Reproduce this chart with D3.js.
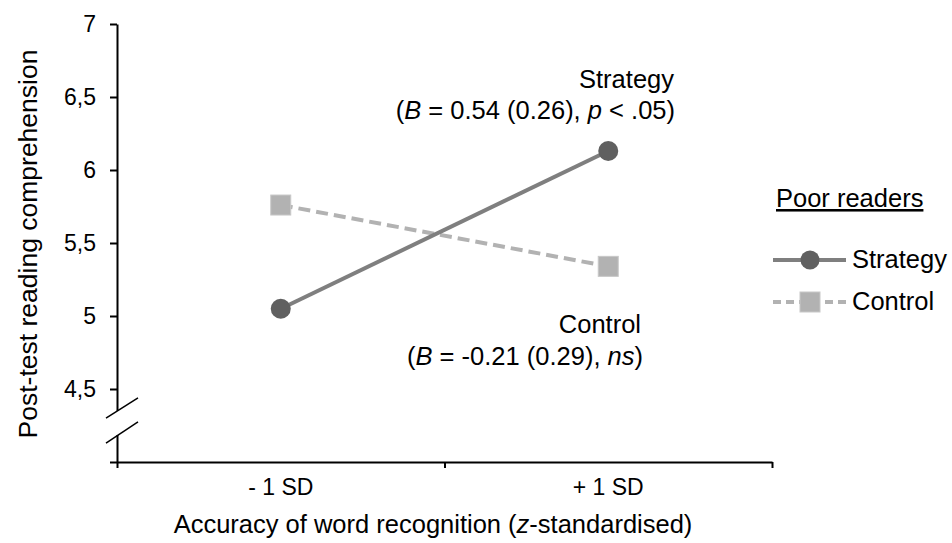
<!DOCTYPE html>
<html>
<head>
<meta charset="utf-8">
<script src="https://cdn.jsdelivr.net/npm/d3@7"></script>
<style>
  html, body { margin: 0; padding: 0; background: #fff; }
  svg { display: block; font-family: "Liberation Sans", Arial, sans-serif; }
</style>
</head>
<body>
<svg id="chart" width="952" height="543"></svg>
<script>
// ---- data ----
const categories = ["- 1 SD", "+ 1 SD"];
const seriesNames = ["Strategy", "Control"];
const strategyValues = [5.05, 6.13];
const controlValues = [5.76, 5.34];
const yTickValues = [4, 4.5, 5, 5.5, 6, 6.5, 7];
const yDomain = [4, 7];
const xTitle = ["Accuracy of word recognition (", "z", "-standardised)"];
const yTitle = "Post-test reading comprehension";
const legendTitle = "Poor readers";

// ---- layout ----
const svg = d3.select("#chart");
const plotLeft = 117, plotRight = 772, plotTop = 24, plotBottom = 462;
const tickFont = 23, textFont = 25.5;

const x = d3.scaleBand().domain(categories).range([plotLeft, plotRight]).padding(0);
const xEdges = d3.scaleLinear().domain([0, categories.length]).range([plotLeft, plotRight]);
const y = d3.scaleLinear().domain(yDomain).range([plotBottom, plotTop]);
const cx = d => x(d) + x.bandwidth() / 2;

// y axis
const yAxis = svg.append("g")
  .attr("transform", `translate(${plotLeft},0)`)
  .call(d3.axisLeft(y).tickValues(yTickValues).tickSize(7).tickSizeOuter(0).tickPadding(14)
    .tickFormat(d => d === yDomain[0] ? "" : String(d).replace(".", ",")));
yAxis.selectAll("text").attr("font-size", tickFont).attr("fill", "#000").attr("font-family", "Liberation Sans, Arial, sans-serif");
yAxis.selectAll("line, path").attr("stroke", "#000").attr("stroke-width", 2);

// x axis (edges ticks)
const xAxisG = svg.append("g")
  .attr("transform", `translate(0,${plotBottom})`)
  .call(d3.axisBottom(xEdges).tickValues(d3.range(categories.length + 1)).tickSize(6).tickSizeOuter(0).tickFormat(""));
xAxisG.selectAll("line, path").attr("stroke", "#000").attr("stroke-width", 2);
const xLabG = svg.append("g")
  .attr("transform", `translate(0,${plotBottom})`)
  .call(d3.axisBottom(x).tickSize(0).tickPadding(17));
xLabG.select("path").remove();
xLabG.selectAll("text").attr("font-size", tickFont).attr("fill", "#000").attr("font-family", "Liberation Sans, Arial, sans-serif");

// axis break
const breakTop = y(4.35), breakBottom = y(4.185);
svg.append("rect").attr("x", plotLeft - 4).attr("width", 8)
  .attr("y", breakTop).attr("height", breakBottom - breakTop).attr("fill", "#fff");
[[y(4.30), y(4.44)], [y(4.13), y(4.275)]].forEach(([y1, y2]) => {
  svg.append("line").attr("x1", plotLeft - 11).attr("y1", y1)
    .attr("x2", plotLeft + 21).attr("y2", y2)
    .attr("stroke", "#000").attr("stroke-width", 1.5);
});

// series lines
const line = d3.line().x((d, i) => cx(categories[i])).y(d => y(d));
svg.append("path").datum(controlValues).attr("d", line)
  .attr("fill", "none").attr("stroke", "#b2b2b2").attr("stroke-width", 4)
  .attr("stroke-dasharray", "12,6");
svg.append("path").datum(strategyValues).attr("d", line)
  .attr("fill", "none").attr("stroke", "#7f7f7f").attr("stroke-width", 4);

// markers
svg.selectAll(".sq").data(controlValues).enter().append("rect")
  .attr("x", (d, i) => cx(categories[i]) - 10).attr("y", d => y(d) - 10)
  .attr("width", 20).attr("height", 20)
  .attr("fill", "#b2b2b2").attr("stroke", "#c8c8c8").attr("stroke-width", 1);
svg.selectAll(".ci").data(strategyValues).enter().append("circle")
  .attr("cx", (d, i) => cx(categories[i])).attr("cy", d => y(d)).attr("r", 10)
  .attr("fill", "#606060");

// annotations
function richText(g, xPos, yPos, parts, anchor) {
  const t = g.append("text").attr("x", xPos).attr("y", yPos)
    .attr("text-anchor", anchor).attr("font-size", textFont).attr("fill", "#000");
  parts.forEach(p => t.append("tspan").text(p.t).attr("font-style", p.i ? "italic" : "normal"));
  return t;
}
const annX = 675;
richText(svg, annX - 1, 88, [{t: "Strategy"}], "end");
richText(svg, annX, 119, [{t: "("}, {t: "B", i: 1}, {t: " = 0.54 (0.26), "}, {t: "p", i: 1}, {t: " < .05)"}], "end");
richText(svg, 641, 333, [{t: "Control"}], "end");
richText(svg, 643, 365, [{t: "("}, {t: "B", i: 1}, {t: " = -0.21 (0.29), "}, {t: "ns", i: 1}, {t: ")"}], "end");

// axis titles
const xt = svg.append("text").attr("x", 433).attr("y", 533).attr("text-anchor", "middle")
  .attr("font-size", textFont).attr("fill", "#000");
xt.append("tspan").text(xTitle[0]);
xt.append("tspan").text(xTitle[1]).attr("font-style", "italic");
xt.append("tspan").text(xTitle[2]);

svg.append("text").attr("transform", "translate(37,244) rotate(-90)")
  .attr("text-anchor", "middle").attr("font-size", 26.5).attr("fill", "#000").text(yTitle);

// legend
const lg = svg.append("g");
lg.append("text").attr("x", 776).attr("y", 207).attr("font-size", textFont).attr("fill", "#000")
  .attr("text-decoration", "underline").text(legendTitle);
const legendItems = [
  {name: seriesNames[0], y: 260, color: "#7f7f7f", marker: "circle", dash: null},
  {name: seriesNames[1], y: 302, color: "#b2b2b2", marker: "rect", dash: "8,5"}
];
legendItems.forEach(it => {
  lg.append("line").attr("x1", 773).attr("x2", 846).attr("y1", it.y).attr("y2", it.y)
    .attr("stroke", it.color).attr("stroke-width", 4).attr("stroke-dasharray", it.dash);
  if (it.marker === "circle") {
    lg.append("circle").attr("cx", 810).attr("cy", it.y).attr("r", 9.5).attr("fill", "#606060");
  } else {
    lg.append("rect").attr("x", 800).attr("y", it.y - 10).attr("width", 20).attr("height", 20)
      .attr("fill", "#b2b2b2").attr("stroke", "#c8c8c8");
  }
  lg.append("text").attr("x", 852).attr("y", it.y + 8).attr("font-size", textFont).attr("fill", "#000").text(it.name);
});
</script>
</body>
</html>
